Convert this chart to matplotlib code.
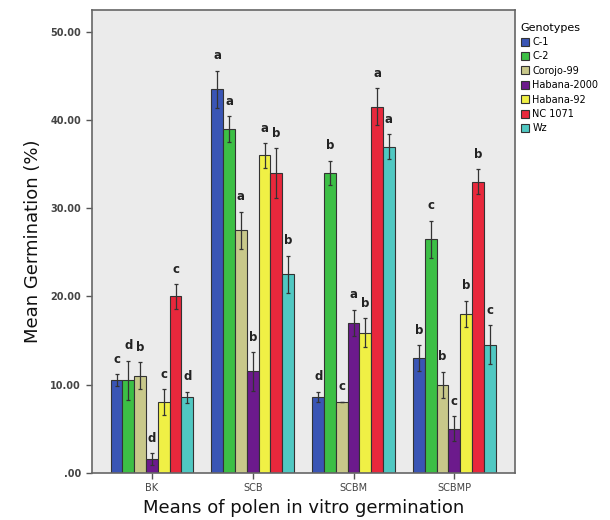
import matplotlib
matplotlib.use("Agg")
import matplotlib.pyplot as plt
import numpy as np

groups = ["BK", "SCB", "SCBM", "SCBMP"]
genotypes = ["C-1", "C-2", "Corojo-99", "Habana-2000", "Habana-92", "NC 1071", "Wz"]
colors = ["#3a55b5", "#3cbf45", "#c8c88a", "#6c1a8c", "#f0f045", "#e8283c", "#50c8c2"]

# mean germination per genotype, one value per group (BK, SCB, SCBM, SCBMP)
means = {
    "C-1":         [10.5, 43.5, 8.6, 13.0],
    "C-2":         [10.5, 39.0, 34.0, 26.5],
    "Corojo-99":   [11.0, 27.5, 8.05, 9.95],
    "Habana-2000": [1.55, 11.5, 17.0, 5.0],
    "Habana-92":   [8.0, 36.0, 15.9, 18.0],
    "NC 1071":     [20.0, 34.0, 41.5, 33.0],
    "Wz":          [8.55, 22.5, 37.0, 14.5],
}
errs = {
    "C-1":         [0.7, 2.1, 0.6, 1.5],
    "C-2":         [2.2, 1.45, 1.4, 2.1],
    "Corojo-99":   [1.5, 2.1, 0.0, 1.5],
    "Habana-2000": [0.7, 2.2, 1.5, 1.4],
    "Habana-92":   [1.5, 1.4, 1.6, 1.5],
    "NC 1071":     [1.4, 2.8, 2.1, 1.4],
    "Wz":          [0.65, 2.1, 1.4, 2.2],
}
letters = {
    "C-1":         ["c", "a", "d", "b"],
    "C-2":         ["d", "a", "b", "c"],
    "Corojo-99":   ["b", "a", "c", "b"],
    "Habana-2000": ["d", "b", "a", "c"],
    "Habana-92":   ["c", "a", "b", "b"],
    "NC 1071":     ["c", "b", "a", "b"],
    "Wz":          ["d", "b", "a", "c"],
}

fig = plt.figure(figsize=(6.1, 5.2), dpi=100)
ax = fig.add_axes([0.150, 0.091, 0.694, 0.890])
ax.set_facecolor("#ebebeb")

x = np.arange(len(groups))
w = 0.117
n = len(genotypes)
for i, g in enumerate(genotypes):
    pos = x + (i - (n - 1) / 2) * w
    ax.bar(pos, means[g], width=w, color=colors[i], edgecolor="#333333",
           linewidth=0.8, label=g, zorder=2)
    ax.errorbar(pos, means[g], yerr=errs[g], fmt="none", ecolor="#333333",
                elinewidth=0.9, capsize=1.5, capthick=0.9, zorder=3)
    for xp, m, e, lab in zip(pos, means[g], errs[g], letters[g]):
        ax.annotate(lab, (xp, m + e), xytext=(0, 6), textcoords="offset points",
                    ha="center", va="bottom", fontsize=8.5, fontweight="bold",
                    color="#222222")

ax.set_xlim(-0.6, 3.6)
ax.set_ylim(0, 52.5)
ax.set_yticks([0, 10, 20, 30, 40, 50])
ax.set_yticklabels([".00", "10.00", "20.00", "30.00", "40.00", "50.00"],
                   fontsize=7, fontweight="bold", color="#444444")
ax.set_xticks(x)
ax.set_xticklabels(groups, fontsize=7, color="#444444")
ax.tick_params(axis="both", length=4, width=1, color="#555555")
for s in ax.spines.values():
    s.set_color("#666666")
    s.set_linewidth(1.2)

ax.set_ylabel("Mean Germination (%)", fontsize=13, color="#111111", labelpad=6)
ax.set_xlabel("Means of polen in vitro germination", fontsize=13,
              color="#111111", labelpad=4)

leg = ax.legend(loc="upper left", bbox_to_anchor=(1.0, 0.985), frameon=False,
                title="Genotypes", fontsize=7, title_fontsize=8,
                handlelength=0.9, handleheight=0.9, handletextpad=0.3,
                labelspacing=0.45, borderaxespad=0.2, alignment="left")

fig.savefig("out.png", dpi=100)
